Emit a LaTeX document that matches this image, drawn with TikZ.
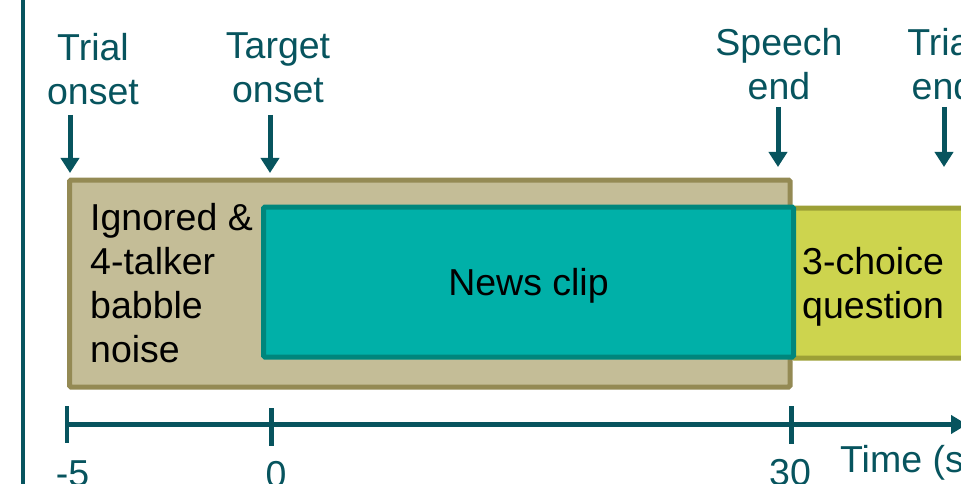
\documentclass[tikz,border=0pt]{standalone}
\usepackage{fontspec}
\setmainfont{Liberation Sans}
\usetikzlibrary{arrows.meta}

\definecolor{inkteal}{RGB}{7,84,94}
\definecolor{sandfill}{RGB}{196,189,151}
\definecolor{sanddraw}{RGB}{148,138,84}
\definecolor{clipfill}{RGB}{0,176,168}
\definecolor{clipdraw}{RGB}{0,134,124}
\definecolor{quizfill}{RGB}{205,212,78}
\definecolor{quizdraw}{RGB}{156,160,54}

\tikzset{
  bigfont/.style={font=\fontsize{37.5}{44}\selectfont},
  phasebox/.style={rectangle, outer sep=0pt, inner sep=0pt, line width=5pt,
    rounded corners=1.5pt, anchor=north west},
  boxtext/.style={bigfont, text=black, inner sep=0pt, align=left, anchor=north west},
  eventlabel/.style={bigfont, text=inkteal, inner sep=0pt, align=center, anchor=north},
  eventarrow/.style={draw=inkteal, line width=5pt,
    -{Triangle[width=18pt,length=15pt]}},
  ticklabel/.style={bigfont, text=inkteal, inner sep=0pt, anchor=north},
  tickmark/.style={draw=inkteal, line width=4.5pt},
}

\begin{document}
\begin{tikzpicture}[x=1pt, y=-1pt]
\useasboundingbox (0,0) rectangle (961,484);
\clip (0,0) rectangle (961,484);

% left rule
\coordinate (ruleTop) at (23,0);
\coordinate (ruleBot) at (23,484);
\draw[inkteal, line width=3.5pt] (ruleTop) -- (ruleBot);

% trial phases
\node[phasebox, fill=sandfill, draw=sanddraw,
      minimum width=720.5pt, minimum height=207pt] (babble) at (69.5,180) {};
\node[phasebox, fill=quizfill, draw=quizdraw,
      minimum width=220pt, minimum height=150pt] (quiz) at (793,208) {};
\node[phasebox, fill=clipfill, draw=clipdraw,
      minimum width=530pt, minimum height=150pt] (clip) at (263.5,207) {};

\node[boxtext] (babbleText) at (90,203) {Ignored \&\\4-talker\\babble\\noise};
\node[bigfont, inner sep=0pt, anchor=base] (clipText) at (528.5,295) {News clip};
\node[boxtext] (quizText) at (802,247) {3-choice\\question};

% event labels and arrows
\node[eventlabel] (trialOn) at (93,33) {Trial\\onset};
\node[eventlabel] (targetOn) at (278,33) {Target\\onset};
\node[eventlabel] (speechEnd) at (779,28) {Speech\\end};
\node[eventlabel] (trialEnd) at (943,28) {Trial\\end};

\coordinate (aTrialOnS) at (70,115);   \coordinate (aTrialOnE) at (70,173);
\coordinate (aTargetS) at (270,115);   \coordinate (aTargetE) at (270,173);
\coordinate (aSpeechS) at (778,107);   \coordinate (aSpeechE) at (778,167);
\coordinate (aTrialEndS) at (944,107); \coordinate (aTrialEndE) at (944,167);
\draw[eventarrow] (aTrialOnS) -- (aTrialOnE);
\draw[eventarrow] (aTargetS) -- (aTargetE);
\draw[eventarrow] (aSpeechS) -- (aSpeechE);
\draw[eventarrow] (aTrialEndS) -- (aTrialEndE);

% time axis
\coordinate (axStart) at (67,424.5);
\coordinate (axEnd) at (967,424.5);
\draw[draw=inkteal, line width=5.5pt, -{Triangle[width=18pt,length=16pt]}] (axStart) -- (axEnd);

\coordinate (tA1) at (67,406);    \coordinate (tA2) at (67,443);
\coordinate (tB1) at (271.5,408); \coordinate (tB2) at (271.5,446);
\coordinate (tC1) at (791.5,406); \coordinate (tC2) at (791.5,444);
\draw[tickmark] (tA1) -- (tA2);
\draw[tickmark] (tB1) -- (tB2);
\draw[tickmark] (tC1) -- (tC2);

\node[ticklabel] (lblM5) at (72.5,460) {-5};
\node[ticklabel] (lbl0) at (276,461) {0};
\node[ticklabel] (lbl30) at (790,459) {30};
\node[ticklabel, anchor=north west] (lblTime) at (840,445) {Time (s)};
\end{tikzpicture}
\end{document}
